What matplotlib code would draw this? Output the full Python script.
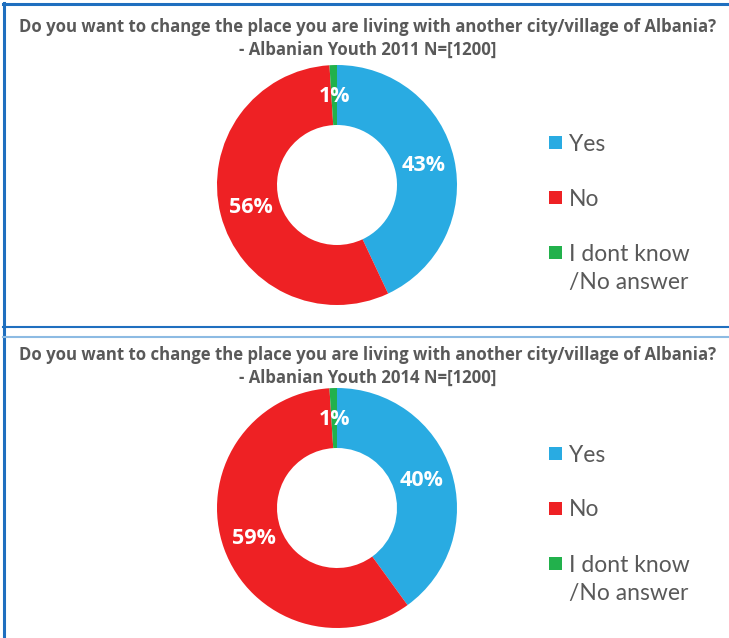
import matplotlib.pyplot as plt
from matplotlib.patches import Rectangle
from matplotlib.lines import Line2D

plt.rcParams['font.family'] = ['Lato', 'DejaVu Sans']

answers = ['Yes', 'No', 'I dont know\n/No answer']
colors = ['#29ABE2', '#EE2124', '#22B14C']
share_2011 = [43, 56, 1]
share_2014 = [40, 59, 1]
question = 'Do you want to change the place you are living with another city/village of Albania?'
subtitles = ['- Albanian Youth 2011 N=[1200]', '- Albanian Youth 2014 N=[1200]']

W, H = 729, 638
fig = plt.figure(figsize=(W / 100, H / 100), dpi=100)


def fx(px):
    return px / W


def fy(py):
    return 1 - py / H


# panel frames
frame = '#1F6FBF'
fig.add_artist(Line2D([fx(3.5), fx(3.5)], [fy(3), fy(H)], color=frame, lw=2.2))
fig.add_artist(Line2D([fx(3), fx(W)], [fy(4), fy(4)], color=frame, lw=2.2))
fig.add_artist(Line2D([fx(3), fx(W)], [fy(327), fy(327)], color=frame, lw=1.5))
fig.add_artist(Line2D([fx(3), fx(W)], [fy(337), fy(337)], color='#8DBBE3', lw=1.5))


def donut(cy, values, subtitle, title_y, legend_y):
    for i, line in enumerate([question, subtitle]):
        fig.text(fx(368), fy(title_y + 23 * i), line, ha='center', va='center',
                 fontsize=12.1, fontweight='bold', color='#595959', family='Open Sans')

    r = 120
    ax = fig.add_axes([fx(337 - r), fy(cy + r), 2 * r / W, 2 * r / H])
    wedges, _, autotexts = ax.pie(values, colors=colors, startangle=90, counterclock=False,
                                  radius=1.0, wedgeprops=dict(width=0.5, linewidth=0),
                                  autopct=lambda p: '%d%%' % round(p), pctdistance=0.74)
    for t in autotexts:
        t.set_color('white')
        t.set_fontweight('bold')
        t.set_fontsize(15.5)
        t.set_family('Open Sans')
    ax.set_xlim(-1, 1)
    ax.set_ylim(-1, 1)
    ax.set_aspect('equal')
    ax.axis('off')

    # legend, one entry every 55 px
    for k, (lab, col) in enumerate(zip(answers, colors)):
        ly = legend_y + 55 * k
        fig.add_artist(Rectangle((fx(549), fy(ly + 5)), 13 / W, 13 / H,
                                 facecolor=col, edgecolor='none'))
        if '\n' in lab:
            fig.text(fx(569), fy(ly - 10), lab, ha='left', va='top',
                     fontsize=16.5, color='#595959', linespacing=1.42)
        else:
            fig.text(fx(569), fy(ly), lab, ha='left', va='center',
                     fontsize=16.5, color='#595959')


donut(185, share_2011, subtitles[0], 27, 144)
donut(508, share_2014, subtitles[1], 355, 455)

fig.savefig('out.png', dpi=100)
